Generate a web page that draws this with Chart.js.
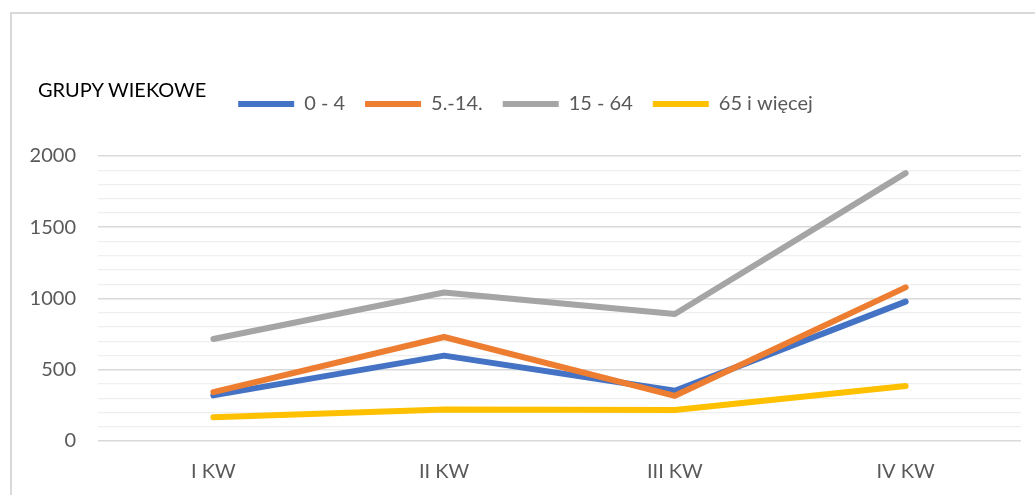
<!DOCTYPE html>
<html>
<head>
<meta charset="utf-8">
<script src="https://cdn.jsdelivr.net/npm/chart.js@4/dist/chart.umd.min.js"></script>
<style>
  html, body { margin: 0; padding: 0; background: #fff; }
  #wrap { position: relative; width: 1035px; height: 495px; overflow: hidden; }
  #frame { position: absolute; left: 10px; top: 12px; width: 1040px; height: 500px;
           border-left: 2px solid #d9d9d9; border-top: 2px solid #d9d9d9; box-sizing: border-box; }
  #ttl { position: absolute; left: 38px; top: 77px; font-family: Lato, sans-serif; font-size: 20px;
         line-height: 24px; color: #000; white-space: nowrap; }
  canvas { position: absolute; left: 0; top: 0; }
</style>
</head>
<body>
<div id="wrap">
  <div id="frame"></div>
  <canvas id="c" width="1035" height="495"></canvas>
  <div id="ttl">GRUPY WIEKOWE</div>
</div>
<script>
const categories = ['I KW', 'II KW', 'III KW', 'IV KW'];
const seriesNames = ['0 - 4', '5.-14.', '15 - 64', '65 i więcej'];
const s0_4 = [320, 599, 352, 978];
const s5_14 = [343, 730, 317, 1078];
const s15_64 = [716, 1042, 891, 1880];
const s65plus = [167, 221, 217, 386];
const seriesColors = ['#4472c4', '#ed7d31', '#a5a5a5', '#ffc000'];
const yMin = 0, yMax = 2000, yStep = 100, yLabelStep = 500;

const allSeries = [s0_4, s5_14, s15_64, s65plus];
const datasets = allSeries.map((vals, i) => ({
  label: seriesNames[i],
  data: vals,
  borderColor: seriesColors[i],
  backgroundColor: seriesColors[i],
  borderWidth: 6,
  borderCapStyle: 'round',
  borderJoinStyle: 'round',
  pointRadius: 0,
  pointHoverRadius: 0,
  tension: 0,
  fill: false,
  order: allSeries.length - i
}));

const legendSpacer = {
  id: 'legendSpacer',
  beforeInit(chart) {
    const orig = chart.legend.fit;
    chart.legend.fit = function () {
      orig.call(this);
      this.height += 32;
    };
  }
};

new Chart(document.getElementById('c'), {
  type: 'line',
  data: { labels: categories, datasets },
  plugins: [legendSpacer],
  options: {
    responsive: false,
    animation: false,
    layout: { padding: { left: 30, right: 14, top: 74, bottom: 11 } },
    plugins: {
      tooltip: { enabled: false },
      legend: {
        position: 'top',
        align: 'center',
        labels: {
          usePointStyle: true,
          pointStyle: 'line',
          pointStyleWidth: 56,
          padding: 20,
          color: '#595959',
          font: { family: 'Lato, sans-serif', size: 20 },
          sort: (a, b) => a.datasetIndex - b.datasetIndex
        }
      }
    },
    scales: {
      x: {
        offset: true,
        afterFit(scale) { scale.height = 43; },
        grid: { display: false, drawTicks: false },
        border: { display: false },
        ticks: { color: '#595959', padding: 19, maxRotation: 0, font: { family: 'Lato, sans-serif', size: 20 } }
      },
      y: {
        min: yMin,
        max: yMax,
        afterFit(scale) { scale.width = 68; },
        border: { display: false },
        grid: {
          drawTicks: false,
          color: (ctx) => (ctx.tick && ctx.tick.value % yLabelStep === 0) ? '#d9d9d9' : '#efefef',
          lineWidth: (ctx) => (ctx.tick && ctx.tick.value % yLabelStep === 0) ? 1.6 : 1.2
        },
        ticks: {
          stepSize: yStep,
          autoSkip: false,
          padding: 22,
          color: '#595959',
          font: { family: 'Lato, sans-serif', size: 20 },
          callback: (v) => (v % yLabelStep === 0) ? String(v) : ''
        }
      }
    }
  }
});
</script>
</body>
</html>
